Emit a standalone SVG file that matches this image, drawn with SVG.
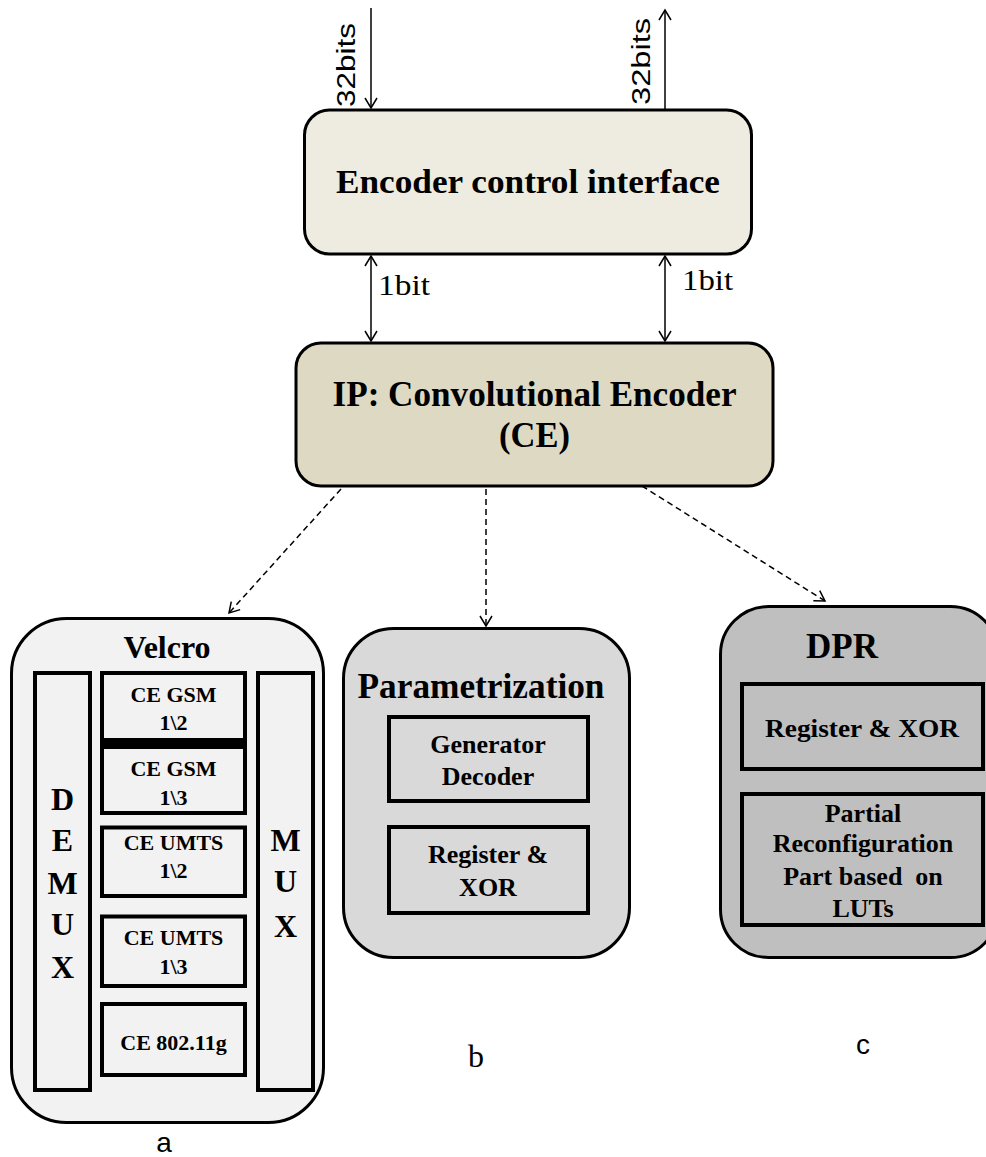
<svg xmlns="http://www.w3.org/2000/svg" width="986" height="1157" viewBox="0 0 986 1157">
<style>
.box{stroke:#000;stroke-width:3}
.inner{stroke:#000;stroke-width:4}
.t{font-family:"Liberation Serif","Times New Roman",serif;font-weight:bold;fill:#000;text-anchor:middle}
.sans{font-family:"Liberation Sans",Arial,sans-serif;fill:#000}
.serif{font-family:"Liberation Serif","Times New Roman",serif;fill:#000}
.conn{stroke:#000;stroke-width:1.5;fill:none}
.dash{stroke-dasharray:6 4}
</style>
<defs>
<marker id="arr" viewBox="-12 -8 14 16" refX="0" refY="0" markerWidth="14" markerHeight="16" markerUnits="userSpaceOnUse" orient="auto-start-reverse">
<path d="M-10,-6 L0,0 L-10,6" fill="none" stroke="#000" stroke-width="1.5"/>
</marker>
</defs>
<rect width="986" height="1157" fill="#fff"/>

<g id="connectors">
<line class="conn" x1="371" y1="8" x2="371" y2="108" marker-end="url(#arr)"/>
<line class="conn" x1="665" y1="109" x2="665" y2="10" marker-end="url(#arr)"/>
<line class="conn" x1="371" y1="256" x2="371" y2="341" marker-start="url(#arr)" marker-end="url(#arr)"/>
<line class="conn" x1="665" y1="256" x2="665" y2="341" marker-start="url(#arr)" marker-end="url(#arr)"/>
<line class="conn dash" x1="341" y1="489" x2="229" y2="613" marker-end="url(#arr)"/>
<line class="conn dash" x1="486" y1="489" x2="486" y2="626" marker-end="url(#arr)"/>
<line class="conn dash" x1="642" y1="486" x2="825" y2="601" marker-end="url(#arr)"/>
<text class="sans" font-size="26" transform="translate(355,107) rotate(-90)" textLength="84" lengthAdjust="spacingAndGlyphs">32bits</text>
<text class="sans" font-size="26" transform="translate(650,105) rotate(-90)" textLength="87" lengthAdjust="spacingAndGlyphs">32bits</text>
<text class="serif" font-size="30" x="378" y="295" textLength="52" lengthAdjust="spacingAndGlyphs">1bit</text>
<text class="serif" font-size="30" x="682" y="290" textLength="51" lengthAdjust="spacingAndGlyphs">1bit</text>
</g>

<g id="encoder-control">
<rect class="box" x="304.5" y="110" width="447" height="144" rx="25" fill="#EEECE1"/>
<text class="t" x="528" y="193" font-size="33" textLength="384" lengthAdjust="spacingAndGlyphs">Encoder control interface</text>
</g>

<g id="ce">
<rect class="box" x="296" y="343" width="477" height="143" rx="25" fill="#DDD9C3"/>
<text class="t" x="534.5" y="406" font-size="36" textLength="404" lengthAdjust="spacingAndGlyphs">IP: Convolutional Encoder</text>
<text class="t" x="534.5" y="447" font-size="36" textLength="71" lengthAdjust="spacingAndGlyphs">(CE)</text>
</g>

<g id="velcro">
<rect class="box" x="11.5" y="618.5" width="312" height="504" rx="55" fill="#F2F2F2"/>
<text class="t" x="167" y="658" font-size="32">Velcro</text>
<rect class="inner" x="35" y="673" width="55" height="417" fill="#F2F2F2"/>
<rect class="inner" x="258" y="673" width="55" height="417" fill="#F2F2F2"/>
<rect class="inner" x="102" y="673" width="143" height="67" fill="#F2F2F2"/>
<rect class="inner" x="102" y="747" width="143" height="66" fill="#F2F2F2"/>
<line x1="100" y1="743.5" x2="247" y2="743.5" stroke="#000" stroke-width="3"/>
<rect class="inner" x="102" y="827.5" width="143" height="68.5" fill="#F2F2F2"/>
<rect class="inner" x="102" y="916.5" width="143" height="69.5" fill="#F2F2F2"/>
<rect class="inner" x="102" y="1004" width="143" height="71" fill="#F2F2F2"/>
<text class="t" x="173.5" y="702" font-size="22">CE GSM</text>
<text class="t" x="173.5" y="730" font-size="22">1\2</text>
<text class="t" x="173.5" y="776" font-size="22">CE GSM</text>
<text class="t" x="173.5" y="805" font-size="22">1\3</text>
<text class="t" x="173.5" y="850" font-size="22">CE UMTS</text>
<text class="t" x="173.5" y="878" font-size="22">1\2</text>
<text class="t" x="173.5" y="945" font-size="22">CE UMTS</text>
<text class="t" x="173.5" y="974" font-size="22">1\3</text>
<text class="t" x="173.5" y="1050" font-size="22">CE 802.11g</text>
<text class="t" x="62.5" y="810" font-size="32">D</text>
<text class="t" x="62.5" y="851" font-size="32">E</text>
<text class="t" x="62.5" y="894" font-size="32">M</text>
<text class="t" x="62.5" y="935" font-size="32">U</text>
<text class="t" x="62.5" y="978" font-size="32">X</text>
<text class="t" x="285.5" y="851" font-size="32">M</text>
<text class="t" x="285.5" y="892" font-size="32">U</text>
<text class="t" x="285.5" y="937" font-size="32">X</text>
</g>

<g id="parametrization">
<rect class="box" x="343.5" y="628.5" width="286" height="329" rx="50" fill="#D9D9D9"/>
<text class="t" x="481" y="698" font-size="35" textLength="247" lengthAdjust="spacingAndGlyphs">Parametrization</text>
<rect class="inner" x="389" y="717" width="199" height="84" fill="#D9D9D9"/>
<rect class="inner" x="389" y="827" width="199" height="86" fill="#D9D9D9"/>
<text class="t" x="488" y="753" font-size="26">Generator</text>
<text class="t" x="488" y="785" font-size="26">Decoder</text>
<text class="t" x="488" y="863" font-size="26">Register &amp;</text>
<text class="t" x="488" y="896" font-size="26">XOR</text>
</g>

<g id="dpr">
<rect class="box" x="720.5" y="606.5" width="278" height="351" rx="48" fill="#BFBFBF"/>
<text class="t" x="842" y="658" font-size="35">DPR</text>
<rect class="inner" x="742" y="684" width="241" height="85" fill="#BFBFBF"/>
<rect class="inner" x="742" y="794" width="241" height="131" fill="#BFBFBF"/>
<text class="t" x="862" y="737" font-size="26" textLength="194" lengthAdjust="spacingAndGlyphs">Register &amp; XOR</text>
<text class="t" x="863" y="822" font-size="26">Partial</text>
<text class="t" x="863" y="852" font-size="26">Reconfiguration</text>
<text class="t" x="863" y="885" font-size="26" style="white-space:pre">Part based  on</text>
<text class="t" x="863" y="917" font-size="26">LUTs</text>
</g>

<g id="labels">
<text class="sans" x="164" y="1152" font-size="28" text-anchor="middle">a</text>
<text class="serif" x="476" y="1067" font-size="32" text-anchor="middle">b</text>
<text class="sans" x="863" y="1054" font-size="28" text-anchor="middle">c</text>
</g>
</svg>
